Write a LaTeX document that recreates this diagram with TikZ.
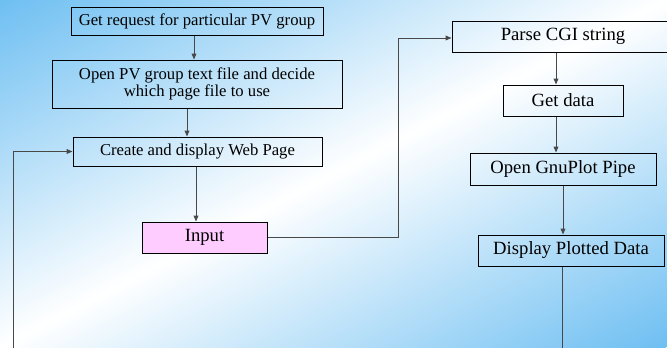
\documentclass[tikz,border=0pt]{standalone}
\usepackage{fontspec}
\setmainfont{Liberation Serif}
\usetikzlibrary{arrows.meta}

\definecolor{bgblue}{RGB}{110,191,242}
\definecolor{inpink}{RGB}{255,204,255}
\definecolor{wirecol}{RGB}{72,72,72}

\tikzset{every picture/.style={line width=0.75pt}}
\tikzset{
  flowbox/.style={draw=black, inner sep=0pt, align=center, font=\fontsize{12.5}{13.3}\selectfont},
  bigbox/.style={flowbox, font=\fontsize{14}{16}\selectfont},
  wire/.style={draw=wirecol, -{Triangle[length=4.5pt,width=3.6pt]}},
  plainwire/.style={draw=wirecol},
}

\begin{document}
\begin{tikzpicture}[x=0.75pt,y=0.75pt,yscale=-1,xscale=1]
%set diagram left start at 0, and has height of 347
\path[use as bounding box] (0,0) rectangle (667,347);

%Background: blue corners fading to white
\begin{scope}
\clip (0,0) rectangle (667,347);
\begin{scope}[transform canvas={rotate=-62.52}]
\shade [left color=bgblue, right color=bgblue, middle color=white] (0,-900) rectangle (615.6,900);
\end{scope}
\end{scope}

% Text Node
\node [flowbox, minimum width=189pt, minimum height=21pt] (getreq) at (197,21) {Get request for particular PV group};
% Text Node
\node [flowbox, minimum width=217.5pt, minimum height=36pt] (openpv) at (197,84) {Open PV group text file and decide\\which page file to use};
% Text Node
\node [flowbox, minimum width=186.75pt, minimum height=21.75pt] (webpage) at (197.5,151.5) {Create and display Web Page};
% Text Node
\node [bigbox, fill=inpink, minimum width=93.75pt, minimum height=23.25pt] (input) at (204.5,237.5) {Input};
% Text Node
\node [bigbox, minimum width=166.5pt, minimum height=23.25pt] (parse) at (563,36.5) {Parse CGI string};
% Text Node
\node [bigbox, minimum width=90pt, minimum height=23.25pt] (getdata) at (563,100.5) {Get data};
% Text Node
\node [bigbox, minimum width=139.5pt, minimum height=24pt] (gnuplot) at (563,169) {Open GnuPlot Pipe};
% Text Node
\node [bigbox, minimum width=139.5pt, minimum height=23.25pt] (display) at (571,250.5) {Display Plotted Data};

%free ends and corners
\coordinate (turn) at (398,38);
\coordinate (loopin) at (13,352);
\coordinate (loopout) at (562,352);

%Straight Lines
\draw [wire] (getreq.south) ++(-3,0) coordinate (a1) -- (a1 |- openpv.north);
\draw [wire] (openpv.south) ++(-10,0) coordinate (a2) -- (a2 |- webpage.north);
\draw [wire] (webpage.south) ++(-1.5,0) coordinate (a3) -- (a3 |- input.north);
\draw [wire] (input.east) -| (turn) -- (turn -| parse.west);
\draw [wire] (parse.south) ++(-7,0) coordinate (a4) -- (a4 |- getdata.north);
\draw [wire] (getdata.south) ++(-7,0) coordinate (a5) -- (a5 |- gnuplot.north);
\draw [wire] (gnuplot.south) -- (gnuplot.south |- display.north);
\draw [plainwire] (display.south -| loopout) -- (loopout);
\draw [wire] (loopin) |- (webpage.west);

\end{tikzpicture}
\end{document}
